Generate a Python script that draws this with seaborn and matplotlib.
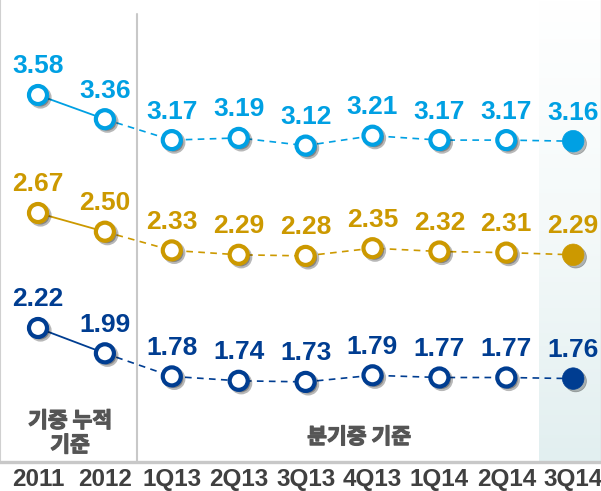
import numpy as np
import matplotlib
matplotlib.use("Agg")
import matplotlib.pyplot as plt
import matplotlib.patheffects as pe
import seaborn as sns
from matplotlib.colors import LinearSegmentedColormap

# data
CATEGORIES = ["2011", "2012", "1Q13", "2Q13", "3Q13", "4Q13", "1Q14", "2Q14", "3Q14"]
TOP_VALUES = [3.58, 3.36, 3.17, 3.19, 3.12, 3.21, 3.17, 3.17, 3.16]
MID_VALUES = [2.67, 2.50, 2.33, 2.29, 2.28, 2.35, 2.32, 2.31, 2.29]
LOW_VALUES = [2.22, 1.99, 1.78, 1.74, 1.73, 1.79, 1.77, 1.77, 1.76]
ANNUAL_LABEL = "기중 누적\n기준"
QUARTER_LABEL = "분기중 기준"
N_ANNUAL = 2  # first two points are yearly

# style / layout
COLORS = ["#00A0E3", "#CC9900", "#003D91"]
ANCHOR_PX = [95, 213, 328]     # pixel row (from top) where each series' first point sits
PX_PER_UNIT = 110
W, H, AX_H = 601, 491, 462
X0_PX, STEP_PX = 38, 66.9
NUM_FONT = "Liberation Sans"
KR_FONT = ["Noto Sans CJK KR", "DejaVu Sans"]
TXT = "#555555"

sns.set_style("white")
plt.rcParams["font.family"] = [NUM_FONT, "DejaVu Sans"]

fig = plt.figure(figsize=(W / 100, H / 100), dpi=100)
ax = fig.add_axes([0, (H - AX_H) / H, 1, AX_H / H])
px2x = lambda p: (p - X0_PX) / STEP_PX
ax.set_xlim(px2x(0), px2x(W))
ax.set_ylim(0, 1)
ax.set_yticks([])
ax.set_xticks(range(len(CATEGORIES)))
ax.set_xticklabels(CATEGORIES, fontsize=17.5, fontweight="bold", color="#404040")
ax.tick_params(axis="x", length=0, pad=4)

ax.spines["top"].set_visible(False)
ax.spines["bottom"].set_color("#C8C8C8")
ax.spines["bottom"].set_linewidth(2.4)
ax.spines["left"].set_color("#D0D0D0")
ax.spines["left"].set_linewidth(1.5)
ax.spines["right"].set_color("#D8D8D8")
ax.spines["right"].set_linewidth(1.0)

# shaded latest-quarter column
cmap = LinearSegmentedColormap.from_list("shade", ["#FFFFFF", "#F4F9F9", "#E2EFF0"])
grad = np.linspace(0, 1, 256).reshape(-1, 1)
ax.imshow(grad, extent=[px2x(539), px2x(W), 0, 1], origin="upper",
          aspect="auto", cmap=cmap, zorder=0)

# divider between yearly and quarterly
ax.axvline(px2x(137), ymin=0, ymax=(AX_H - 14) / AX_H, color="#C8C8C8", lw=1.5, zorder=1)

# the CJK font has no bold face here, so thicken it with a stroke
kr_bold = [pe.withStroke(linewidth=0.9, foreground=TXT)]
ax.text(px2x(70), (AX_H - 433) / AX_H, ANNUAL_LABEL, ha="center", va="center",
        fontsize=15.5, fontweight="bold", color=TXT, family=KR_FONT, linespacing=1.2,
        path_effects=kr_bold)
ax.text(px2x(359), (AX_H - 437) / AX_H, QUARTER_LABEL, ha="center", va="center",
        fontsize=15.5, fontweight="bold", color=TXT, family=KR_FONT, path_effects=kr_bold)

shadow = [pe.SimplePatchShadow(offset=(1.8, -1.8), shadow_rgbFace="#000000", alpha=0.28),
          pe.SimpleLineShadow(offset=(1.8, -1.8), shadow_color="#000000", alpha=0.28),
          pe.Normal()]

x = np.arange(len(CATEGORIES))
for vals, color, anchor in zip([TOP_VALUES, MID_VALUES, LOW_VALUES], COLORS, ANCHOR_PX):
    vals = np.array(vals)
    s = ax.twinx()
    top = vals[0] + anchor / PX_PER_UNIT
    s.set_ylim(top - AX_H / PX_PER_UNIT, top)
    s.axis("off")

    sns.lineplot(x=x[:N_ANNUAL], y=vals[:N_ANNUAL], ax=s, color=color, lw=1.3)
    sns.lineplot(x=x[N_ANNUAL - 1:], y=vals[N_ANNUAL - 1:], ax=s, color=color, lw=1.2,
                 linestyle=(0, (4.0, 3.2)))

    s.plot(x[:-1], vals[:-1], ls="none", marker="o", ms=13, mew=3.0, mec=color,
           mfc="white", path_effects=shadow, zorder=3)
    s.plot(x[-1:], vals[-1:], ls="none", marker="o", ms=15.5, mew=0.5, mec=color,
           mfc=color, path_effects=shadow, zorder=3)

    for xi, v in zip(x, vals):
        s.annotate(f"{v:.2f}", (xi, v), xytext=(0, 15.5), textcoords="offset points",
                   ha="center", va="baseline", fontsize=19, fontweight="bold",
                   color=color, family=NUM_FONT)
    s.set_xlim(ax.get_xlim())

fig.savefig("out.png", dpi=100)
